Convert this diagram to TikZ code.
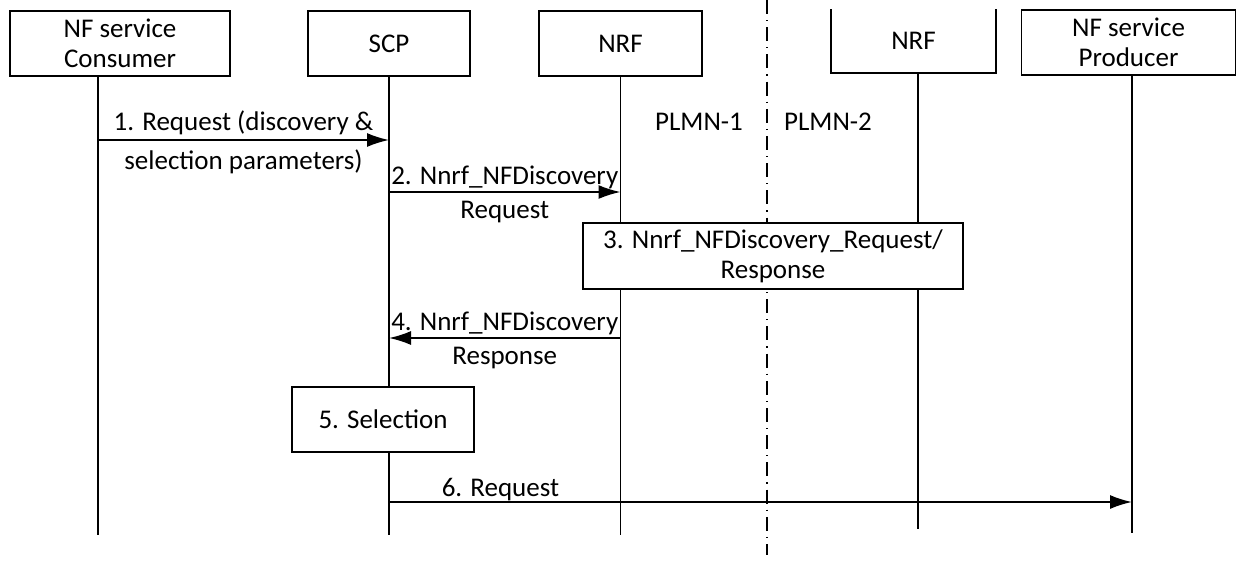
\documentclass[tikz,border=0pt]{standalone}
\usepackage{fontspec}
\setmainfont{Carlito}
\usetikzlibrary{arrows.meta,positioning,calc}

\begin{document}
\begin{tikzpicture}[x=0.5pt,y=-0.5pt,>={Latex[length=11pt,width=7pt]},
    every node/.style={font=\fontsize{13.5}{15}\selectfont},
    ent/.style={draw,line width=0.9pt,minimum height=32.5pt,align=center,fill=white,inner sep=0pt},
    life/.style={line width=0.9pt},
    msg/.style={->,line width=0.9pt},
    plmn/.style={line width=0.8pt,dash pattern=on 7pt off 3pt on 0.6pt off 3pt}]
    \useasboundingbox (0,0) rectangle (1236,563);

    % entities
    \node[ent,minimum width=110pt] (cons) at (120,43.5) {NF service\\Consumer};
    \node[ent,minimum width=81pt] (scp) at (389,43.5) {SCP};
    \node[ent,minimum width=81.5pt] (nrf1) at (620.5,43.5) {NRF};
    \node[ent,draw=none,minimum width=81.5pt,minimum height=31pt] (nrf2) at (913.5,41) {NRF};
    \draw[line width=0.9pt] (nrf2.north west) -- (nrf2.south west) -- (nrf2.south east) -- (nrf2.north east);
    \node[ent,minimum width=107pt] (prod) at (1128.5,42.5) {NF service\\Producer};

    % lifelines
    \coordinate (consE) at (98,535);
    \coordinate (scpE) at (389,535);
    \coordinate (nrf1E) at (620.5,535);
    \coordinate (nrf2E) at (918,529);
    \coordinate (prodE) at (1132,533);
    \draw[life] (cons.south -| consE) -- (consE);
    \draw[life] (scp.south -| scpE) -- (scpE);
    \draw[life] (nrf1.south -| nrf1E) -- (nrf1E);
    \draw[life] (nrf2.south -| nrf2E) -- (nrf2E);
    \draw[life] (prod.south -| prodE) -- (prodE);

    % PLMN border
    \coordinate (divT) at (767,0);
    \coordinate (divB) at (767,555);
    \draw[plmn] (divT) -- (divB);
    \node (plmn1) at (699,122) {PLMN-1};
    \node (plmn2) at (828,122) {PLMN-2};

    % messages
    \draw[msg] (consE |- 0,140) -- (scpE |- 0,140)
      node[midway,above=-1pt] {1. Request (discovery \&}
      node[midway,below=1pt] {selection parameters)};
    \draw[msg] (scpE |- 0,192) -- (nrf1E |- 0,192)
      node[midway,above=-2pt] {2. Nnrf\_NFDiscovery}
      node[midway,below=1pt] {Request};
    \node[ent,minimum width=190pt,minimum height=33pt] (disc) at (773,256) {3. Nnrf\_NFDiscovery\_Request/\\Response};
    \draw[msg] (nrf1E |- 0,338) -- (scpE |- 0,338)
      node[midway,above=-2pt] {4. Nnrf\_NFDiscovery}
      node[midway,below=1pt] {Response};
    \node[ent,minimum width=91pt] (sel) at (383,419.5) {5. Selection};
    \draw[msg] (scpE |- 0,502) -- (prodE |- 0,502)
      node[pos=0.15,above=-3pt] {6. Request};
\end{tikzpicture}
\end{document}
